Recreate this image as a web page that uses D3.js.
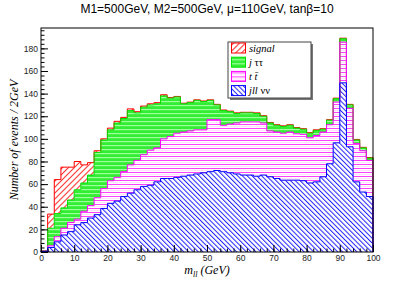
<!DOCTYPE html>
<html>
<head>
<meta charset="utf-8">
<script src="https://cdn.jsdelivr.net/npm/d3@7"></script>
<style>
body { margin: 0; background: #fff; }
text { font-family: "Liberation Sans", Arial, sans-serif; }
.serif { font-family: "Liberation Serif", "Times New Roman", serif; font-style: italic; }
</style>
</head>
<body>
<div id="chart"></div>
<script>
// bins of m_ll, 2 GeV wide
var massBins = d3.range(0, 100, 2);

// events / 2 GeV for each process (stacked bottom -> top: jllvv, ttbar, j tautau, signal)
var jllNuNu = [0.5, 4, 9, 15, 18, 24, 26, 30, 33, 38.5,
  43, 45, 49, 52, 55, 58, 59, 62, 65, 65,
  66, 67, 68, 69, 70, 71, 72, 71, 70, 69,
  68, 68, 67, 68, 66.5, 65, 63.5, 63.5, 63.5, 63,
  61, 62, 66.5, 78, 96.5, 149.5, 93, 62, 53, 49];
var ttbar = [0.3, 1.5, 4.5, 6, 8, 5, 10, 11, 15, 17.5,
  20, 21, 22, 25, 26, 28, 31, 30, 35, 37,
  39, 39, 39, 39, 38, 46, 45, 41, 43, 45,
  47, 47, 48, 46, 40.5, 41, 41.5, 42.5, 41, 41,
  40, 41, 39.5, 34.5, 36, 36, 34, 34, 36.5, 32];
var jTauTau = [0.2, 15.5, 20.5, 18, 20, 26, 25, 27, 40, 43,
  45, 48, 47, 48, 42, 42, 40, 39, 38, 34,
  32, 25, 25, 26, 25, 17, 13, 13, 11, 8.5,
  8, 8, 7.5, 6, 7, 6, 6, 6, 5, 4.5,
  4, 4.5, 2.5, 4, 3, 3, 3, 3, 2.5, 2];
var signal = [0, 12.5, 30, 36, 29, 25, 16, 11, 1.5, 1,
  1.5, 1.5, 1, 1.5, 1, 1, 1, 1, 1, 0.5,
  0.5, 0.5, 0.5, 0.5, 0.5, 0.5, 0.5, 0.5, 0.5, 0.5,
  0.5, 0.5, 0.5, 0.5, 0.5, 0.5, 0.5, 0.5, 0.5, 0.5,
  0.5, 0.5, 0.5, 0.5, 0.5, 0.5, 0.5, 0.5, 0.5, 0.5];

var xTicks = [0, 10, 20, 30, 40, 50, 60, 70, 80, 90, 100];
var yTicks = [0, 20, 40, 60, 80, 100, 120, 140, 160, 180];

var margin = { top: 28, right: 42, bottom: 29, left: 41 },
    width = 415 - margin.left - margin.right,
    height = 281 - margin.top - margin.bottom;

var root = d3.select("#chart")
  .append("svg")
    .attr("width", 415)
    .attr("height", 281);

// fill patterns
var defs = root.append("defs");
function hatch(id, color, angle, gap, bg) {
  var p = defs.append("pattern")
    .attr("id", id)
    .attr("patternUnits", "userSpaceOnUse")
    .attr("width", gap).attr("height", gap)
    .attr("patternTransform", "rotate(" + angle + ")");
  p.append("rect").attr("width", gap).attr("height", gap).attr("fill", bg);
  p.append("line")
    .attr("x1", 0.5).attr("y1", 0).attr("x2", 0.5).attr("y2", gap)
    .attr("stroke", color).attr("stroke-width", 1);
}
hatch("hRed", "#ff2020", 45, 4.2, "#fff");
hatch("hBlue", "#2020ff", -45, 3.4, "#fff");
// magenta: horizontal lines with pale pink between
var pm = defs.append("pattern").attr("id", "hMag")
  .attr("patternUnits", "userSpaceOnUse").attr("width", 4).attr("height", 4);
pm.append("rect").attr("width", 4).attr("height", 4).attr("fill", "#fff");
pm.append("rect").attr("y", 0).attr("width", 4).attr("height", 1).attr("fill", "#ff40ff");
pm.append("rect").attr("y", 2).attr("width", 4).attr("height", 1).attr("fill", "#ffe0ff");
// green: solid with light stripes
var pg = defs.append("pattern").attr("id", "hGreen")
  .attr("patternUnits", "userSpaceOnUse").attr("width", 4).attr("height", 4);
pg.append("rect").attr("width", 4).attr("height", 4).attr("fill", "#33ee33");
pg.append("rect").attr("y", 1).attr("width", 4).attr("height", 1.2).attr("fill", "#9dff9d");

var svg = root.append("g")
  .attr("transform", "translate(" + margin.left + "," + margin.top + ")");

var x = d3.scaleLinear().domain([0, 100]).range([0, width]);
var y = d3.scaleLinear().domain([0, 198]).range([height, 0]);

var keys = ["jll", "tt", "jtt", "sig"];
var fills = { jll: "url(#hBlue)", tt: "url(#hMag)", jtt: "url(#hGreen)", sig: "url(#hRed)" };
var lines = { jll: "#0000ff", tt: "#ff00ff", jtt: "#00e000", sig: "#ff0000" };

var data = massBins.map(function(m, i) {
  return { m: m, jll: jllNuNu[i], tt: ttbar[i], jtt: jTauTau[i], sig: signal[i] };
});
// closing edge at 100 GeV
var last = Object.assign({}, data[data.length - 1]);
last.m = 100;
data.push(last);

var series = d3.stack().keys(keys)(data);

var area = d3.area()
  .curve(d3.curveStepAfter)
  .x(function(d) { return x(d.data.m); })
  .y0(function(d) { return y(d[0]); })
  .y1(function(d) { return y(d[1]); });

svg.selectAll(".layer")
  .data(series)
  .enter()
  .append("path")
    .attr("class", "layer")
    .attr("d", area)
    .attr("fill", function(d) { return fills[d.key]; });

var outline = d3.line()
  .curve(d3.curveStepAfter)
  .x(function(d) { return x(d[0]); })
  .y(function(d) { return y(d[1]); });

series.slice().reverse().forEach(function(s) {
  var pts = [[0, 0]].concat(s.map(function(d) { return [d.data.m, d[1]]; }));
  pts.push([100, 0]);
  svg.append("path")
    .attr("d", outline(pts))
    .attr("fill", "none")
    .attr("stroke", lines[s.key])
    .attr("stroke-width", 1);
});

// axes, ROOT style ticks pointing inwards
var minorX = d3.range(0, 101, 2), minorY = d3.range(0, 197, 4);
svg.append("g")
  .attr("transform", "translate(0," + height + ")")
  .call(d3.axisBottom(x).tickValues(minorX).tickSize(-3.5).tickFormat(""))
  .call(function(g) { g.select(".domain").remove(); });
svg.append("g")
  .call(d3.axisLeft(y).tickValues(minorY).tickSize(-3.5).tickFormat(""))
  .call(function(g) { g.select(".domain").remove(); });

var xAxis = svg.append("g")
  .attr("transform", "translate(0," + height + ")")
  .call(d3.axisBottom(x).tickValues(xTicks).tickSize(-7).tickPadding(3));
var yAxis = svg.append("g")
  .call(d3.axisLeft(y).tickValues(yTicks).tickSize(-7).tickPadding(3));
[xAxis, yAxis].forEach(function(g) {
  g.select(".domain").remove();
  g.selectAll("text")
    .style("font-family", "Liberation Sans, Arial, sans-serif")
    .style("font-size", "8.5px")
    .attr("fill", "#222");
});
yAxis.selectAll("text").attr("dy", "0.32em");

svg.append("rect")
  .attr("width", width).attr("height", height)
  .attr("fill", "none").attr("stroke", "#000").attr("stroke-width", 1);

// titles
root.append("text")
  .attr("x", 207).attr("y", 13)
  .attr("text-anchor", "middle")
  .style("font-size", "12px")
  .text("M1=500GeV, M2=500GeV, \u03bc=110GeV, tan\u03b2=10");

root.append("text")
  .attr("class", "serif")
  .attr("transform", "translate(18," + (margin.top + height / 2) + ") rotate(-90)")
  .attr("text-anchor", "middle")
  .style("font-size", "12px")
  .text("Number of events / 2GeV");

var xt = root.append("text")
  .attr("class", "serif")
  .attr("x", 207).attr("y", 274)
  .attr("text-anchor", "middle")
  .style("font-size", "12px");
xt.append("tspan").text("m");
xt.append("tspan").attr("dy", 3).style("font-size", "8px").text("ll");
xt.append("tspan").attr("dy", -3).text(" (GeV)");

// legend
var legendItems = [
  { key: "sig", label: ["signal"] },
  { key: "jtt", label: ["j ", "\u03c4\u03c4"] },
  { key: "tt", label: ["t ", "t\u0304"] },
  { key: "jll", label: ["jll ", "\u03bd\u03bd"] }
];
var legend = root.append("g").attr("transform", "translate(228,42)");
legend.append("rect").attr("x", 2).attr("y", 2).attr("width", 83).attr("height", 56).attr("fill", "#777");
legend.append("rect").attr("width", 83).attr("height", 56).attr("fill", "#fff").attr("stroke", "#444").attr("stroke-width", 1);

var li = legend.selectAll(".li")
  .data(legendItems)
  .enter()
  .append("g")
  .attr("transform", function(d, i) { return "translate(0," + (6 + i * 14.2) + ")"; });
li.append("rect")
  .attr("x", 3.5).attr("y", -5).attr("width", 14).attr("height", 10)
  .attr("fill", function(d) { return fills[d.key]; })
  .attr("stroke", function(d) { return lines[d.key]; })
  .attr("stroke-width", 1);
var lt = li.append("text")
  .attr("class", "serif")
  .attr("x", 21).attr("y", 3.5)
  .style("font-size", "10.5px");
lt.each(function(d) {
  var t = d3.select(this);
  d.label.forEach(function(s, k) {
    t.append("tspan").style("font-style", k === 1 && d.key !== "tt" ? "normal" : "italic").text(s);
  });
});
</script>
</body>
</html>
